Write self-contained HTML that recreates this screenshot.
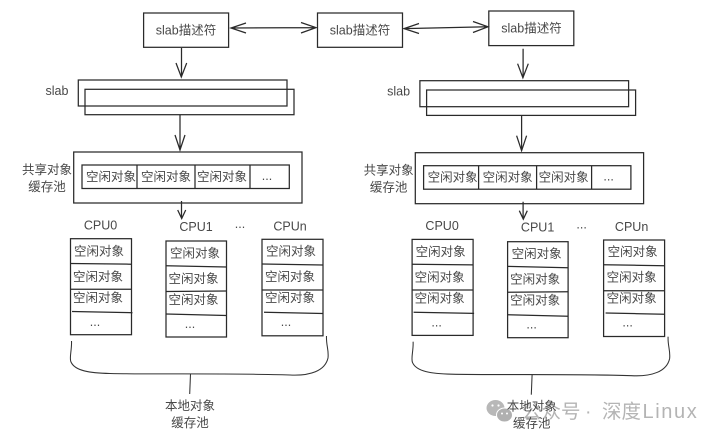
<!DOCTYPE html>
<html lang="zh"><head><meta charset="utf-8"><title>slab</title>
<style>
html,body{margin:0;padding:0;background:#fff;width:720px;height:441px;overflow:hidden}
svg{display:block;filter:blur(0.35px)}
text{font-family:"Liberation Sans","Noto Sans CJK SC",sans-serif;font-size:12.5px;fill:#484848;text-anchor:middle;dominant-baseline:central}
.l{fill:none;stroke:#2a2a2a;stroke-width:1.25}
.c{fill:none;stroke:#333;stroke-width:1.05}
.w{font-size:19.5px;fill:#b4b4b4;text-anchor:start}
</style></head><body>
<svg width="720" height="441" viewBox="0 0 720 441" xmlns="http://www.w3.org/2000/svg">
<rect width="720" height="441" fill="#fff"/>

<!-- top boxes -->
<rect class="l" x="143.6" y="13" width="85" height="34.3"/>
<text x="186" y="30.5">slab描述符</text>
<rect class="l" x="317.5" y="13" width="85" height="34.3"/>
<text x="360" y="30.5">slab描述符</text>
<rect class="l" x="488.8" y="11" width="85" height="34.6"/>
<text x="531.5" y="28.5">slab描述符</text>
<path class="l" d="M231 28L316 27.6M246 23L231 28L246 33M301 22.5L316 27.6L301 33"/>
<path class="l" d="M404 28.6L488 26.8M419 23.5L404 28.6L419 33.5M473 21.5L488 26.8L473 32.5"/>

<!-- LEFT -->
<g>
<path class="l" d="M181.5 48V77M176 63L181.3 77L186.7 63"/>
<rect class="l" x="78.3" y="80" width="208.7" height="26"/>
<rect class="l" x="85" y="89.3" width="209" height="25.4"/>
<text x="57" y="91">slab</text>
<path class="l" d="M180 115V150M175 135L180 150L185 135"/>
<rect class="l" x="73.7" y="152" width="228.3" height="51"/>
<rect class="l" x="82" y="165" width="207.3" height="23.5"/>
<path class="l" d="M137 165V188.5M195 165V188.5M250 165V188.5"/>
<text x="111" y="177">空闲对象</text><text x="166" y="177">空闲对象</text><text x="222" y="177">空闲对象</text><text x="267" y="176">...</text>
<text x="47" y="170">共享对象</text><text x="47" y="187">缓存池</text>
<path class="l" d="M181.5 201V218M177.7 210L181.7 218.5L185.7 210"/>
<text x="100.5" y="225.5">CPU0</text><text x="196" y="227">CPU1</text><text x="240" y="224">...</text><text x="290" y="226.5">CPUn</text>

<rect class="l" x="70.5" y="238.7" width="61" height="96"/>
<path class="l" d="M70.5 263.5L131.5 264.2M70.5 289.3H131.5M72 311.5L132.5 312.7"/>
<text x="99" y="251.5">空闲对象</text><text x="98" y="277">空闲对象</text><text x="98" y="298">空闲对象</text><text x="95" y="322">...</text>

<rect class="l" x="166" y="241" width="60.5" height="96"/>
<path class="l" d="M166 265.7L226.5 267M166 291.5L226.5 291M166 314L226.5 315.5"/>
<text x="195" y="253.5">空闲对象</text><text x="193.5" y="279">空闲对象</text><text x="193.5" y="300">空闲对象</text><text x="190" y="324">...</text>

<rect class="l" x="262" y="239.3" width="61" height="96.5"/>
<path class="l" d="M262 264L323 265M262 290H323M264 312.3L323 313.5"/>
<text x="291" y="251.5">空闲对象</text><text x="290" y="277">空闲对象</text><text x="290" y="298">空闲对象</text><text x="286" y="322">...</text>

<path class="c" d="M71.5 341C72 350 69 358 71 362C75 371 90 373 110 373.5C150 374.5 230 373 290 375C310 376 325 371 328 358C329 350 326 345 326.5 336"/>
<path class="c" d="M190.5 374L189.7 394"/>
<text x="190" y="406">本地对象</text><text x="190" y="423">缓存池</text>
</g>

<!-- RIGHT -->
<g transform="translate(341.6 0.7)">
<path class="l" d="M181.5 48V77M176 63L181.3 77L186.7 63"/>
<rect class="l" x="78.3" y="80" width="208.7" height="26"/>
<rect class="l" x="85" y="89.3" width="209" height="25.4"/>
<text x="57" y="91">slab</text>
<path class="l" d="M180 115V150M175 135L180 150L185 135"/>
<rect class="l" x="73.7" y="152" width="228.3" height="51"/>
<rect class="l" x="82" y="165" width="207.3" height="23.5"/>
<path class="l" d="M137 165V188.5M195 165V188.5M250 165V188.5"/>
<text x="111" y="177">空闲对象</text><text x="166" y="177">空闲对象</text><text x="222" y="177">空闲对象</text><text x="267" y="176">...</text>
<text x="47" y="170">共享对象</text><text x="47" y="187">缓存池</text>
<path class="l" d="M181.5 201V218M177.7 210L181.7 218.5L185.7 210"/>
<text x="100.5" y="225.5">CPU0</text><text x="196" y="227">CPU1</text><text x="240" y="224">...</text><text x="290" y="226.5">CPUn</text>

<rect class="l" x="70.5" y="238.7" width="61" height="96"/>
<path class="l" d="M70.5 263.5L131.5 264.2M70.5 289.3H131.5M72 311.5L132.5 312.7"/>
<text x="99" y="251.5">空闲对象</text><text x="98" y="277">空闲对象</text><text x="98" y="298">空闲对象</text><text x="95" y="322">...</text>

<rect class="l" x="166" y="241" width="60.5" height="96"/>
<path class="l" d="M166 265.7L226.5 267M166 291.5L226.5 291M166 314L226.5 315.5"/>
<text x="195" y="253.5">空闲对象</text><text x="193.5" y="279">空闲对象</text><text x="193.5" y="300">空闲对象</text><text x="190" y="324">...</text>

<rect class="l" x="262" y="239.3" width="61" height="96.5"/>
<path class="l" d="M262 264L323 265M262 290H323M264 312.3L323 313.5"/>
<text x="291" y="251.5">空闲对象</text><text x="290" y="277">空闲对象</text><text x="290" y="298">空闲对象</text><text x="286" y="322">...</text>

<path class="c" d="M71.5 341C72 350 69 358 71 362C75 371 90 373 110 373.5C150 374.5 230 373 290 375C310 376 325 371 328 358C329 350 326 345 326.5 336"/>
<path class="c" d="M190.5 374L189.7 394"/>
</g>

<!-- watermark -->
<ellipse cx="495.5" cy="408" rx="9" ry="8" fill="#b8b8b8"/>
<ellipse cx="504.5" cy="415" rx="8" ry="7" fill="#b0b0b0" stroke="#fff" stroke-width="1"/>
<circle cx="492.5" cy="405.5" r="1.1" fill="#fff"/><circle cx="498.5" cy="405.5" r="1.1" fill="#fff"/>
<circle cx="502" cy="413.5" r="1" fill="#fff"/><circle cx="507" cy="413.5" r="1" fill="#fff"/>
<text class="w" x="522" y="412">公众号</text>
<text class="w" x="585" y="412">·</text>
<text class="w" x="602" y="412">深度</text>
<text class="w" x="642.5" y="412" style="letter-spacing:1.6px;font-size:20px">Linux</text>
<text x="531.7" y="406.7">本地对象</text>
<text x="531.7" y="423.7">缓存池</text>
</svg>
</body></html>
